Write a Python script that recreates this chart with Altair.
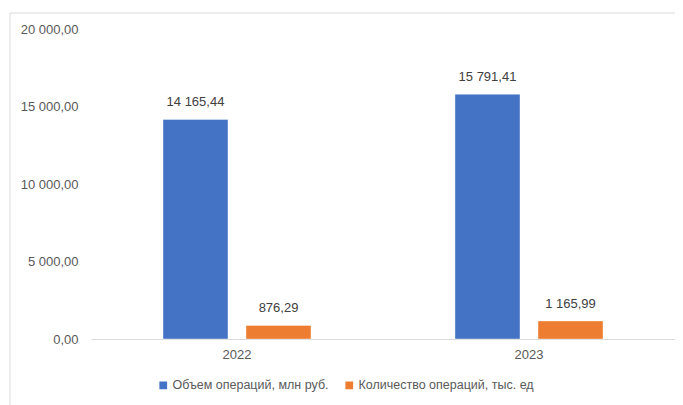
import altair as alt
import pandas as pd

years = ["2022", "2023"]
series = ["Объем операций, млн руб.", "Количество операций, тыс. ед"]
volume = [14165.44, 15791.41]
count = [876.29, 1165.99]
colors = ["#4472C4", "#ED7D31"]
y_ticks = [0, 5000, 10000, 15000, 20000]


def ru(v):
    return f"{v:,.2f}".replace(",", " ").replace(".", ",")


rows = []
for i, yr in enumerate(years):
    for s, vals in zip(series, [volume, count]):
        rows.append({"year": yr, "series": s, "value": vals[i], "label": ru(vals[i])})
df = pd.DataFrame(rows)

FONT = "Liberation Sans"

x = alt.X("year:N", sort=years, title=None,
          scale=alt.Scale(paddingInner=0, paddingOuter=0),
          axis=alt.Axis(labelAngle=0, ticks=False, tickSize=0, labelPadding=9,
                        domainColor="#D9D9D9", domainWidth=1,
                        labelColor="#595959", labelFontSize=13, labelFont=FONT))
xo = alt.XOffset("series:N", sort=series,
                 scale=alt.Scale(domain=series, paddingInner=0.217, paddingOuter=0.867))
y = alt.Y("value:Q", title=None,
          scale=alt.Scale(domain=[0, 20000], nice=False),
          axis=alt.Axis(values=y_ticks, grid=False, domain=False, ticks=False, tickSize=0,
                        labelPadding=13, labelColor="#595959", labelFontSize=13,
                        labelFont=FONT,
                        labelExpr="replace(replace(format(datum.value, ',.2f'), ',', ' '), '.', ',')"))

bars = alt.Chart(df).mark_bar(stroke="white", strokeOpacity=0.4, strokeWidth=1).encode(
    x=x, xOffset=xo, y=y,
    color=alt.Color("series:N", sort=series,
                    scale=alt.Scale(domain=series, range=colors),
                    legend=alt.Legend(title=None, orient="none", direction="horizontal",
                                      legendX=66, legendY=350,
                                      symbolType="square", symbolSize=60,
                                      symbolStrokeWidth=0, symbolOpacity=1,
                                      labelFontSize=12.5, labelFont=FONT, labelLimit=400,
                                      labelColor="#595959", labelOffset=3,
                                      columnPadding=14)),
)

labels = alt.Chart(df).mark_text(baseline="bottom", dy=-10, fontSize=13, font=FONT,
                                 color="#404040").encode(
    x=alt.X("year:N", sort=years), xOffset=alt.XOffset("series:N", sort=series),
    y="value:Q", text="label:N")

border_df = pd.DataFrame({"k": [0]})
border = alt.Chart(border_df).mark_rect(fill=None, stroke="#D9D9D9", strokeWidth=1).encode(
    x=alt.value(-81), x2=alt.value(700), y=alt.value(-16), y2=alt.value(450))

chart = alt.layer(border, bars, labels).properties(
    width=584, height=310,
    autosize=alt.AutoSizeParams(type="none"),
    padding={"left": 83, "top": 21, "right": 0, "bottom": 66},
).configure(font=FONT, view=alt.ViewConfig(stroke=None))

chart.save("out.html", embed_options={"renderer": "svg", "actions": False})
